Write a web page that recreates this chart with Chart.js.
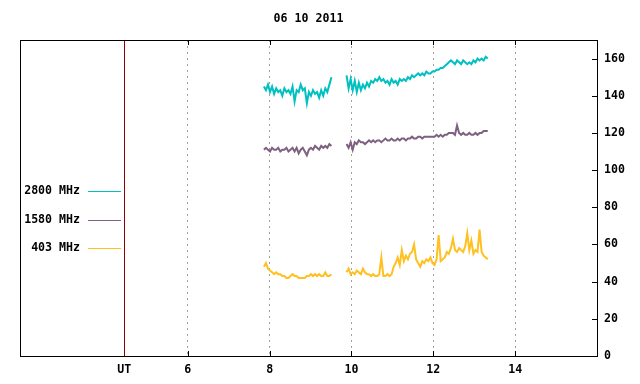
<!DOCTYPE html>
<html>
<head>
<meta charset="utf-8">
<script src="https://cdn.jsdelivr.net/npm/chart.js@4.4.0/dist/chart.umd.min.js"></script>
<style>
  html, body { margin: 0; padding: 0; background: #fff; }
</style>
</head>
<body>
<canvas id="flux" width="640" height="384"></canvas>
<script>
// chart title and series
const titleText = '06 10 2011';
const seriesNames = ['2800 MHz', '1580 MHz', '403 MHz'];

// x axis (hours UT)
const xMin = 1.9, xMax = 16;
const utPos = 4.45;
const hourTicks = [6, 8, 10, 12, 14];
const yTicks = [0, 20, 40, 60, 80, 100, 120, 140, 160];

// sampling of the two observing runs
const seg1Start = 7.86, seg2Start = 9.88, sampleStep = 0.05;

// 2800 MHz
const f2800Seg1 = [
  145,143,146,142,145,141,144,142,143,140,
  144,142,143,141,145,137,143,142,146,143,
  144,136,142,140,143,141,142,139,143,140,
  144,142,146,150
];
const f2800Seg2 = [
  151,144,149,143,148,142,147,143,146,144,
  147,145,148,147,149,148,150,148,149,147,
  148,146,149,147,148,146,149,148,149,148,
  150,149,151,150,151,152,151,152,151,153,
  152,152,153,153,154,154,155,155,156,157,
  158,159,158,157,159,158,157,159,158,157,
  158,157,159,158,160,159,160,159,161,160
];

// 1580 MHz
const f1580Seg1 = [
  111,112,111,110,112,111,111,112,110,111,
  111,112,110,111,112,110,112,109,111,112,
  110,108,111,112,111,113,112,111,113,112,
  113,112,114,113
];
const f1580Seg2 = [
  114,112,115,111,115,114,116,115,115,114,
  115,116,115,116,115,116,116,115,116,117,
  116,116,117,116,116,117,116,117,117,116,
  117,117,118,117,117,118,118,117,118,118,
  118,118,118,118,119,118,119,118,119,119,
  120,120,120,119,124,120,119,120,119,119,
  120,119,119,120,119,120,120,121,121,121
];

// 403 MHz
const f403Seg1 = [
  48,50,47,46,45,44,45,44,44,43,
  43,42,42,43,44,43,43,42,42,42,
  42,43,43,44,43,44,43,44,43,43,
  45,43,43,44
];
const f403Seg2 = [
  45,47,44,45,44,46,45,44,47,45,
  44,44,43,44,43,43,44,53,43,43,
  44,43,44,48,50,53,49,57,51,54,
  52,55,56,60,52,50,48,51,50,52,
  51,53,50,49,52,65,51,52,53,56,
  55,58,63,57,56,58,57,56,59,66,
  57,62,55,57,56,68,56,54,53,52
];

function toPoints(seg1, seg2) {
  const pts = seg1.map((v, i) => ({ x: seg1Start + i * sampleStep, y: v }));
  const seg1End = seg1Start + (seg1.length - 1) * sampleStep;
  pts.push({ x: (seg1End + seg2Start) / 2, y: null });
  seg2.forEach((v, i) => pts.push({ x: seg2Start + i * sampleStep, y: v }));
  return pts;
}

const colors = ['#00c0c0', '#7e6080', '#ffc020'];
const FONT = 'bold 11.6px "DejaVu Sans Mono", monospace';

const framePlugin = {
  id: 'frame',
  afterDraw(chart) {
    const { ctx, chartArea: a, scales: { x, y } } = chart;
    ctx.save();
    ctx.lineWidth = 1;

    // title
    ctx.font = FONT;
    ctx.fillStyle = '#000';
    ctx.textAlign = 'center';
    ctx.textBaseline = 'middle';
    ctx.fillText(titleText, (a.left + a.right) / 2, 19);

    // UT separator
    const ux = Math.round(x.getPixelForValue(utPos)) + 0.5;
    ctx.strokeStyle = '#900000';
    ctx.beginPath();
    ctx.moveTo(ux, a.top);
    ctx.lineTo(ux, a.bottom);
    ctx.stroke();

    // border
    ctx.strokeStyle = '#000';
    ctx.strokeRect(a.left + 0.5, a.top + 0.5, a.right - a.left, a.bottom - a.top);

    // inward ticks
    ctx.beginPath();
    hourTicks.forEach(h => {
      const px = Math.round(x.getPixelForValue(h)) + 0.5;
      ctx.moveTo(px, a.top);
      ctx.lineTo(px, a.top + 5);
      ctx.moveTo(px, a.bottom);
      ctx.lineTo(px, a.bottom - 5);
    });
    yTicks.forEach(v => {
      const py = Math.round(y.getPixelForValue(v)) + 0.5;
      ctx.moveTo(a.right, py);
      ctx.lineTo(a.right - 5, py);
    });
    ctx.stroke();

    // legend
    ctx.textAlign = 'right';
    seriesNames.forEach((name, i) => {
      const ly = 191 + i * 28.5;
      ctx.fillStyle = '#000';
      ctx.fillText(name, 80, ly);
      ctx.strokeStyle = colors[i];
      ctx.beginPath();
      ctx.moveTo(88, Math.round(ly) + 0.5);
      ctx.lineTo(121, Math.round(ly) + 0.5);
      ctx.stroke();
    });
    ctx.restore();
  }
};

new Chart(document.getElementById('flux'), {
  type: 'line',
  data: {
    datasets: [
      { label: seriesNames[0], data: toPoints(f2800Seg1, f2800Seg2), borderColor: colors[0] },
      { label: seriesNames[1], data: toPoints(f1580Seg1, f1580Seg2), borderColor: colors[1] },
      { label: seriesNames[2], data: toPoints(f403Seg1, f403Seg2), borderColor: colors[2] }
    ]
  },
  options: {
    responsive: false,
    animation: false,
    devicePixelRatio: 1,
    spanGaps: false,
    elements: {
      line: { borderWidth: 2, tension: 0 },
      point: { radius: 0 }
    },
    layout: { padding: { top: 40, left: 20, right: 0, bottom: 0 } },
    plugins: {
      legend: { display: false },
      tooltip: { enabled: false },
      title: { display: false }
    },
    scales: {
      x: {
        type: 'linear',
        min: xMin,
        max: xMax,
        afterBuildTicks: scale => {
          scale.ticks = [utPos].concat(hourTicks).map(v => ({ value: v }));
        },
        afterFit: scale => { scale.height = 28; },
        grid: {
          color: ctx => (ctx.tick && ctx.tick.value === utPos) ? 'rgba(0,0,0,0)' : '#a0a0a0',
          drawTicks: false,
          lineWidth: 1
        },
        border: { display: false, dash: [2, 4] },
        ticks: {
          autoSkip: false,
          maxRotation: 0,
          padding: 7,
          color: '#000',
          font: { family: '"DejaVu Sans Mono", monospace', size: 11.6, weight: 'bold' },
          callback: v => v === utPos ? 'UT' : String(v)
        }
      },
      y: {
        position: 'right',
        min: 0,
        max: 170,
        afterBuildTicks: scale => {
          scale.ticks = yTicks.map(v => ({ value: v }));
        },
        afterFit: scale => { scale.width = 43; },
        grid: { display: false, drawTicks: false },
        border: { display: false },
        ticks: {
          padding: 7,
          color: '#000',
          font: { family: '"DejaVu Sans Mono", monospace', size: 11.6, weight: 'bold' }
        }
      }
    }
  },
  plugins: [framePlugin]
});
</script>
</body>
</html>
